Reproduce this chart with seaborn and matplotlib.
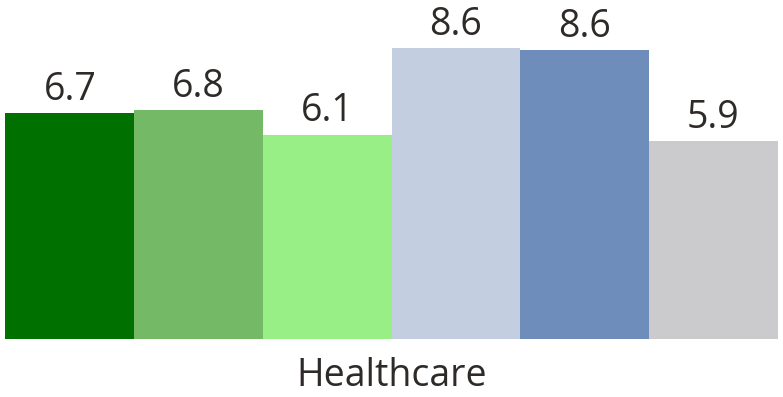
import pandas as pd
import matplotlib
matplotlib.use("Agg")
import matplotlib.pyplot as plt
import seaborn as sns

# values
categories = ["Healthcare"]
series = ["Series 1", "Series 2", "Series 3", "Series 4", "Series 5", "Series 6"]
values = [6.7, 6.8, 6.06, 8.63, 8.56, 5.87]
colors = ["#007000", "#74b966", "#98ef86", "#c3cee0", "#6e8dba", "#cbcbcd"]

df = pd.DataFrame({
    "category": categories * len(series),
    "series": series,
    "value": values,
})

sns.set_style("white")
plt.rcParams["font.family"] = ["Open Sans", "DejaVu Sans"]
text_color = "#2e2a28"

fig = plt.figure(figsize=(7.83, 3.97), dpi=100)
ax = fig.add_axes([0.007, 0.147, 0.986, 0.853])

sns.barplot(data=df, x="category", y="value", hue="series", palette=colors,
            width=1.0, gap=0, saturation=1, linewidth=0, legend=False, ax=ax)

for cont in ax.containers:
    ax.bar_label(cont, fmt="%.1f", padding=3, fontsize=27, color=text_color)

ax.set_xlim(-0.5, 0.5)
ax.set_ylim(0, 10.06)
ax.set_yticks([])
ax.set_xlabel("")
ax.set_ylabel("")
ax.tick_params(axis="x", length=0, pad=13, labelsize=27, labelcolor=text_color)
sns.despine(ax=ax, left=True, bottom=True)

fig.savefig("out.png", dpi=100)
